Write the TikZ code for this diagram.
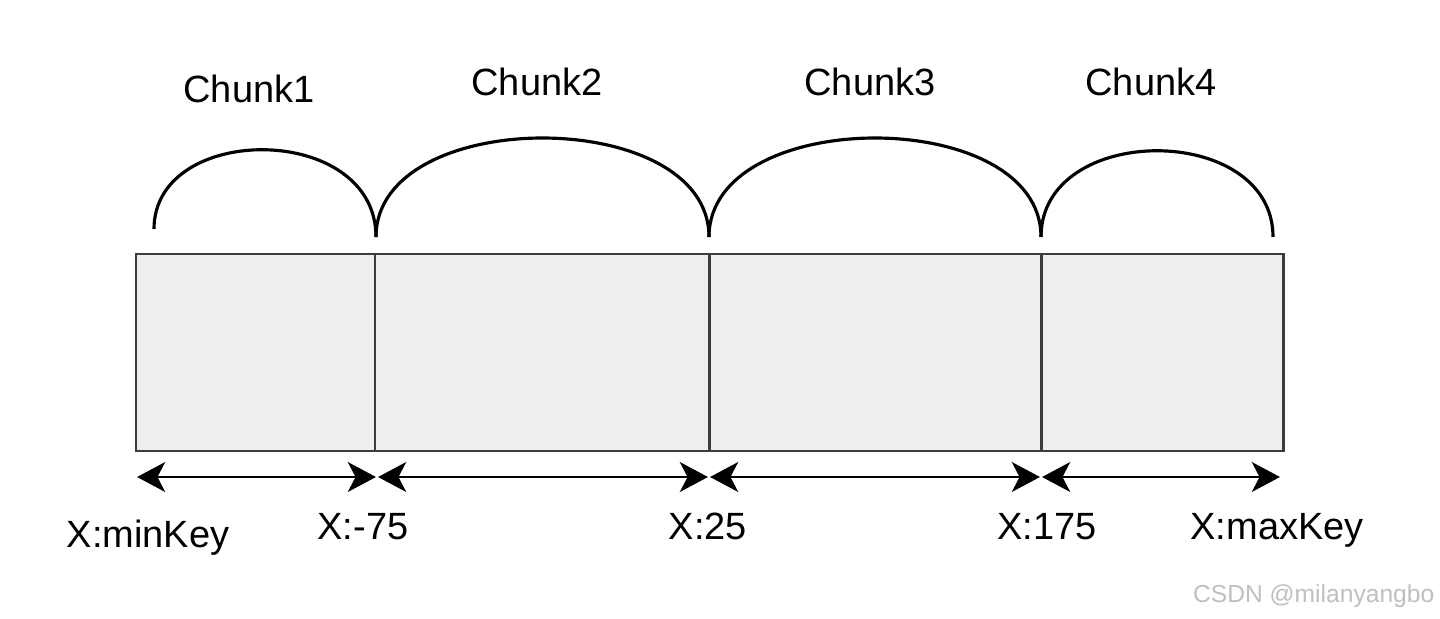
\documentclass[tikz,border=0pt]{standalone}
\usepackage{fontspec}
\setmainfont{Liberation Sans}
\usetikzlibrary{arrows.meta}
\definecolor{cellfill}{HTML}{EEEEEE}
\definecolor{celldraw}{HTML}{3C3C3C}
\begin{document}
\begin{tikzpicture}[x=0.01cm,y=-0.01cm,
    cell/.style={draw=celldraw,fill=cellfill,line width=0.7pt,inner sep=0pt,outer sep=0pt,anchor=north west,minimum height=1.97cm},
    hump/.style={line width=0.9pt},
    span/.style={line width=0.6pt,shorten <=0.3pt,shorten >=0.3pt,
        {Stealth[length=8pt,width=8.5pt,inset=2.2pt]}-{Stealth[length=8pt,width=8.5pt,inset=2.2pt]}},
    lbl/.style={font=\fontsize{10.8}{13}\selectfont,inner sep=0pt,anchor=base}]
    \useasboundingbox (0,0) rectangle (1440,618);
    %% cells
    \node[cell,minimum width=2.39cm] (c1) at (136,254) {};
    \node[cell,minimum width=3.34cm] (c2) at (c1.north east) {};
    \node[cell,minimum width=3.32cm] (c3) at (c2.north east) {};
    \node[cell,minimum width=2.42cm] (c4) at (c3.north east) {};
    %% humps
    \coordinate (h0) at (154,229);
    \coordinate (h1) at (376,237);
    \coordinate (h2) at (709,237);
    \coordinate (h3) at (1041,237);
    \coordinate (h4) at (1273,237);
    \draw[hump] (h0) .. controls (154,122) and (376,122) .. (h1);
    \draw[hump] (h1) .. controls (376,105) and (709,105) .. (h2);
    \draw[hump] (h2) .. controls (709,105) and (1041,105) .. (h3);
    \draw[hump] (h3) .. controls (1041,122) and (1273,122) .. (h4);
    \node[lbl] (t1) at (249,102) {Chunk1};
    \node[lbl] (t2) at (537,95) {Chunk2};
    \node[lbl] (t3) at (870,95) {Chunk3};
    \node[lbl] (t4) at (1151,95) {Chunk4};
    %% key ranges
    \coordinate (k0) at (136,477);
    \coordinate (k1) at (377,477);
    \coordinate (k2) at (709,477);
    \coordinate (k3) at (1041,477);
    \coordinate (k4) at (1281,477);
    \draw[span] (k0) -- (k1);
    \draw[span] (k1) -- (k2);
    \draw[span] (k2) -- (k3);
    \draw[span] (k3) -- (k4);
    \node[lbl] (l0) at (148,547) {X:minKey};
    \node[lbl] (l1) at (363,539) {X:-75};
    \node[lbl] (l2) at (708,539) {X:25};
    \node[lbl] (l3) at (1047,539) {X:175};
    \node[lbl] (l4) at (1277,539) {X:maxKey};
    %% watermark
    \node[inner sep=0pt,anchor=base east,text=gray!50,font=\fontsize{7}{8}\selectfont] (mark) at (1435,602) {CSDN @milanyangbo};
\end{tikzpicture}
\end{document}
